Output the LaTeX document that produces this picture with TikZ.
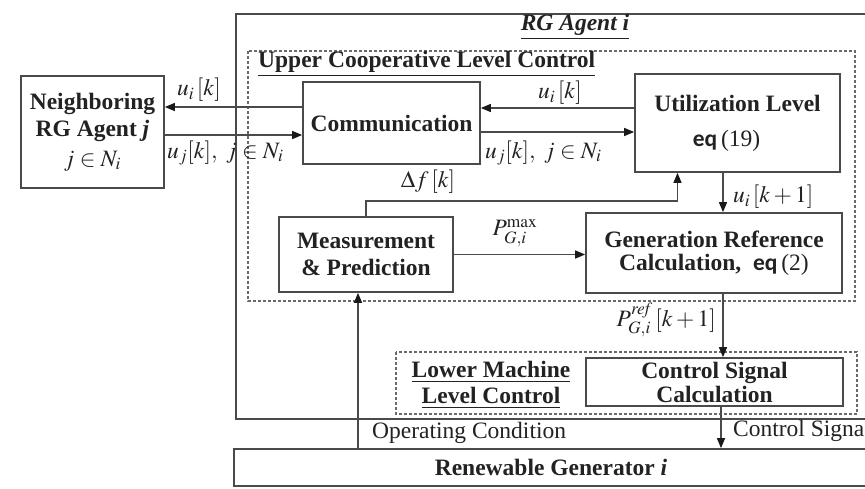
\documentclass[tikz,border=0pt]{standalone}
\usepackage{mathptmx}
\usepackage{fontspec}
\setmainfont{Liberation Serif}
\newfontfamily\eqfont{Carlito}
\usetikzlibrary{arrows.meta,calc}
\definecolor{linec}{HTML}{4A4A4A}
\definecolor{dashc}{HTML}{6A6A6A}
\definecolor{txt}{HTML}{222222}
\tikzset{
  box/.style={draw=linec, line width=1.7pt, fill=white, text=txt,
    font=\bfseries\fontsize{23.5}{27}\selectfont, align=center, inner sep=0pt},
  arr/.style={draw=linec, line width=1.4pt, -{Triangle[length=10pt,width=8pt,color=black!90]}},
  ln/.style={draw=linec, line width=1.7pt},
  dbox/.style={draw=dashc, line width=1.2pt, dash pattern=on 3pt off 2pt},
  lbl/.style={text=txt, font=\fontsize{23.5}{27}\selectfont, inner sep=0pt},
  blbl/.style={text=txt, font=\bfseries\fontsize{23.5}{27}\selectfont, inner sep=0pt, align=center},
}
\newcommand{\eqtxt}[1]{{\eqfont\bfseries eq}\,(#1)}
\begin{document}
\begin{tikzpicture}[x=1pt,y=-1pt]
\useasboundingbox (0,0) rectangle (865,488);
\clip (0,0) rectangle (865,488);
% outer RG agent box (runs off the right edge)
\draw[ln] (900,14) -- (236,14) -- (236,419) -- (900,419);
\node[blbl] (rgi) at (575,27) {\underline{\textit{RG Agent i}}};
% dashed level boxes
\draw[dbox] (248,51) rectangle (855,301);
\draw[dbox] (396,352) rectangle (857,414);
\node[blbl, anchor=west] (upc) at (258,64) {\underline{Upper Cooperative Level Control}};
\node[blbl] (lmc) at (491,385) {\underline{Lower Machine}\\[-1pt]\underline{Level Control}};
% blocks
\node[box, minimum width=143pt, minimum height=112pt] (nb) at (92.5,132)
  {Neighboring\\RG Agent \textit{j}\\[3pt]\mdseries$j\in N_i$};
\node[box, minimum width=177pt, minimum height=82pt] (comm) at (391.5,123) {Communication};
\node[box, minimum width=205pt, minimum height=98pt] (util) at (737.5,123)
  {Utilization Level\\[8pt]\mdseries\eqtxt{19}\hspace*{22pt}};
\node[box, minimum width=174pt, minimum height=75pt] (meas) at (366,254.5)
  {Measurement\\\& Prediction};
\node[box, minimum width=256pt, minimum height=80pt] (gen) at (714,253)
  {Generation Reference\\[-4pt]Calculation,\ \ \mdseries\eqtxt{2}};
\node[box, minimum width=257pt, minimum height=48pt] (ctrl) at (714.5,382)
  {Control Signal\\[-3pt]Calculation};
\node[box, minimum width=634pt, minimum height=37pt] (ren) at (551,467.5)
  {Renewable Generator \textit{i}};
% connectors
\draw[arr] ($(comm.west)+(0,-16)$) -- ($(nb.east)+(0,-25)$);
\draw[arr] ($(nb.east)+(0,3)$) -- ($(comm.west)+(0,12)$);
\draw[arr] ($(util.west)+(0,-15)$) -- ($(comm.east)+(0,-15)$);
\draw[arr] ($(comm.east)+(0,9)$) -- ($(util.west)+(0,9)$);
\draw[arr] (meas.north) |- ($(util.south)+(-60,28)$) -- ($(util.south)+(-60,0)$);
\draw[arr] ($(util.south)+(-14.5,0)$) coordinate (u1) -- (u1 |- gen.north);
\draw[arr] (meas.east) -- (meas.east -| gen.west);
\draw[arr] ($(gen.south)+(9,0)$) coordinate (g1) -- (g1 |- ctrl.north);
\draw[arr] ($(ctrl.south)+(6.5,0)$) coordinate (c1) -- (c1 |- ren.north);
\coordinate (oc) at ($(meas.south)+(-8,0)$);
\draw[arr] (oc |- ren.north) -- (oc);
% labels
\node[lbl] (l1) at (199,90) {$u_i\,[k]$};
\node[lbl, anchor=west] (l2) at (167,153) {$u_j[k],\ j\in N_i$};
\node[lbl] (l3) at (560,93) {$u_i\,[k]$};
\node[lbl, anchor=west] (l4) at (485,153) {$u_j[k],\ j\in N_i$};
\node[lbl] (l5) at (428,182) {$\Delta f\,[k]$};
\node[lbl] (l6) at (515,233) {$P_{G,i}^{\max}$};
\node[lbl, anchor=west] (l7) at (733,197) {$u_i\,[k+1]$};
\node[lbl, anchor=east] (l8) at (716,320) {$P_{G,i}^{\mathit{ref}}\,[k+1]$};
\node[lbl, anchor=west] (l9) at (372,433) {Operating Condition};
\node[lbl, anchor=west] (l10) at (733,431) {Control Signa};
\end{tikzpicture}
\end{document}
